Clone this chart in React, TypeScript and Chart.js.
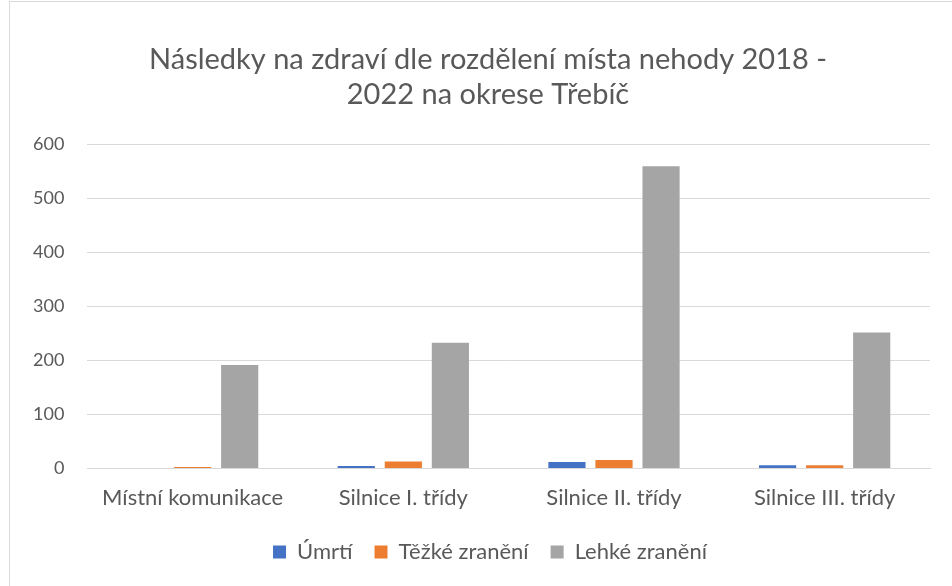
import React, { useEffect, useRef } from "react";
import { Chart, registerables } from "chart.js";

Chart.register(...registerables);

const categories = ["Místní komunikace", "Silnice I. třídy", "Silnice II. třídy", "Silnice III. třídy"];
const umrti = [0, 5, 12, 6];
const tezke = [3, 13, 16, 6];
const lehke = [192, 233, 560, 252];
const titleLines = ["Následky na zdraví dle rozdělení místa nehody 2018 -", "2022 na okrese Třebíč"];

const FONT = "Lato, 'Open Sans', sans-serif";
const TEXT = "#595959";

const shiftBoxes = {
  id: "shiftBoxes",
  afterLayout(chart: any) {
    if (chart.titleBlock) chart.titleBlock.left += 36;
    if (chart.legend) chart.legend.left += 40;
  },
};

export default function App() {
  const ref = useRef<HTMLCanvasElement | null>(null);
  useEffect(() => {
    document.body.style.margin = "0";
    document.body.style.overflow = "hidden";
    const ctx = ref.current!.getContext("2d")!;
    const chart = new Chart(ctx, {
      type: "bar",
      data: {
        labels: categories,
        datasets: [
          { label: "Úmrtí", data: umrti, backgroundColor: "#4472C4" },
          { label: "Těžké zranění", data: tezke, backgroundColor: "#ED7D31" },
          { label: "Lehké zranění", data: lehke, backgroundColor: "#A5A5A5" },
        ],
      },
      plugins: [shiftBoxes],
      options: {
        responsive: false,
        animation: false,
        layout: { padding: { left: 10, right: 22, top: 42, bottom: 13 } },
        datasets: { bar: { categoryPercentage: 0.67, barPercentage: 0.79 } } as any,
        plugins: {
          title: {
            display: true,
            text: titleLines,
            color: TEXT,
            font: { family: FONT, size: 29, weight: "normal", lineHeight: 1.2 },
            padding: { top: 0, bottom: 33 },
          },
          legend: {
            position: "bottom",
            labels: {
              color: TEXT,
              font: { family: FONT, size: 22 },
              boxWidth: 13,
              boxHeight: 13,
              padding: 22,
            },
          },
          tooltip: { enabled: false },
        },
        scales: {
          x: {
            grid: { display: false },
            border: { color: "#d9d9d9", width: 1 },
            ticks: { color: TEXT, font: { family: FONT, size: 22 }, padding: 8 },
          },
          y: {
            min: 0,
            max: 600,
            grid: { color: "#d9d9d9", drawTicks: false },
            border: { display: false },
            ticks: { stepSize: 100, color: TEXT, font: { family: FONT, size: 18 }, padding: 23 },
          },
        },
      },
    });
    return () => chart.destroy();
  }, []);
  return (
    <div style={{ position: "fixed", left: 0, top: 0, width: 952, height: 586, overflow: "hidden", background: "#fff" }}>
      <div style={{ position: "absolute", left: 9, top: 1, width: 960, height: 620, borderLeft: "1px solid #d9d9d9", borderTop: "1px solid #d9d9d9" }} />
      <canvas ref={ref} width={952} height={586} style={{ position: "absolute", left: 0, top: 0 }} />
    </div>
  );
}
